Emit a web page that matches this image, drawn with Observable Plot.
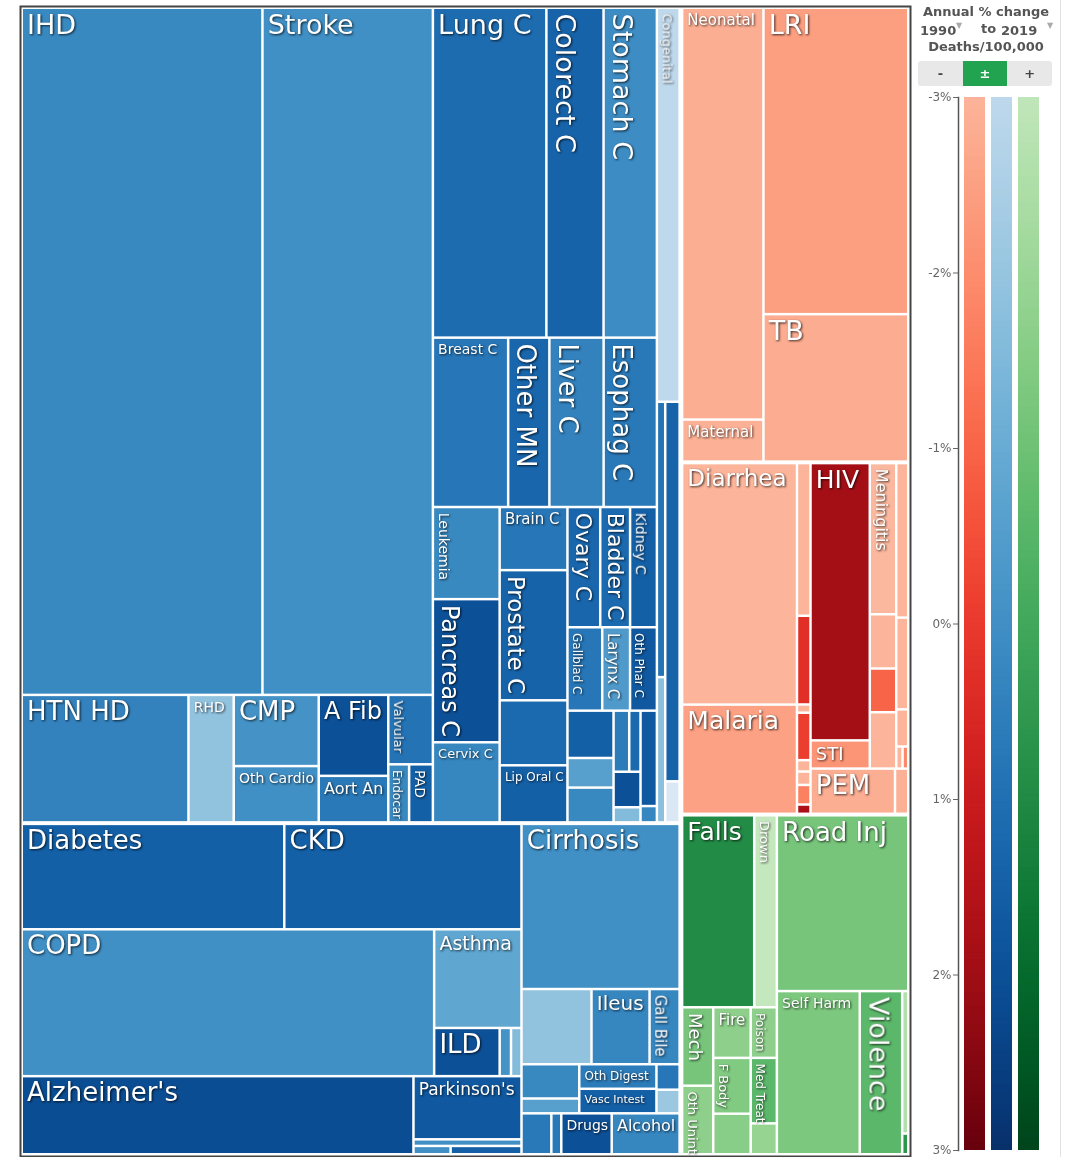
<!DOCTYPE html>
<html><head><meta charset="utf-8">
<script src="https://cdn.jsdelivr.net/npm/d3@7"></script>
<script src="https://cdn.jsdelivr.net/npm/@observablehq/plot@0.6"></script>
<style>
body{margin:0;background:#fff;font-family:"DejaVu Sans",sans-serif;}
#wrap{position:relative;width:1073px;height:1157px;overflow:hidden;background:#fff}
#tree{position:absolute;left:0;top:0}
#tree g[aria-label="text"]{filter:drop-shadow(1px 1px 1.2px rgba(0,0,0,0.75));}
#legend{position:absolute;left:913px;top:0;width:147px;height:1157px;border-right:1px solid #e2e2e2}
#legplot{position:absolute;left:0;top:0}
.hd{position:absolute;font-weight:bold;font-size:13px;color:#555;white-space:nowrap}
.car{position:absolute;font-size:8px;color:#aaa}
#btns{position:absolute;left:5px;top:61px;width:134px;height:25px;background:#e8e8e8;border-radius:3px;display:flex}
.btn{flex:1;text-align:center;line-height:25px;font-size:13px;font-weight:bold;color:#444}
.btn.on{background:#22a34f;color:#fff}
</style></head>
<body>
<div id="wrap">
  <div id="tree"></div>
  <div id="legend">
    <div id="legplot"></div>
    <div class="hd" style="left:4px;top:4px;width:138px;text-align:center">Annual % change</div>
    <div class="hd" style="left:7px;top:23px">1990</div>
    <div class="car" style="left:43px;top:21px">▼</div>
    <div class="hd" style="left:68px;top:21px">to</div>
    <div class="hd" style="left:88px;top:23px">2019</div>
    <div class="car" style="left:134px;top:21px">▼</div>
    <div class="hd" style="left:4px;top:39px;width:138px;text-align:center">Deaths/100,000</div>
    <div id="btns"><div class="btn">-</div><div class="btn on">±</div><div class="btn">+</div></div>
  </div>
</div>
<script>
// ---- data: [layout group path, cause, deaths per 100,000 (2019), annual % change 1990-2019]
const cardiovascular = [
  ["N/T/CVD/a", "IHD", 117.5, 0.2],
  ["N/T/CVD/a", "Stroke", 83.2, 0.0],
  ["N/T/CVD/b", "HTN HD", 15.1, 0.4],
  ["N/T/CVD/b", "RHD", 4.1, -1.9],
  ["N/T/CVD/b/cmp", "CMP", 4.3, -0.1],
  ["N/T/CVD/b/cmp", "Oth Cardio", 3.4, 0.0],
  ["N/T/CVD/b/af", "A Fib", 4.0, 2.0],
  ["N/T/CVD/b/af", "Aort An", 2.3, 0.7],
  ["N/T/CVD/b/vv", "Valvular", 2.2, 0.9],
  ["N/T/CVD/b/vv/ep", "Endocar", 0.86, 0.2],
  ["N/T/CVD/b/vv/ep", "PAD", 0.98, 1.5]
];
const neoplasms = [
  ["N/T/NEO/r1", "Lung C", 26.6, 1.1],
  ["N/T/NEO/r1", "Colorect C", 13.4, 1.4],
  ["N/T/NEO/r1", "Stomach C", 12.5, 0.1],
  ["N/T/NEO/r2", "Breast C", 9.06, 0.8],
  ["N/T/NEO/r2", "Other MN", 4.96, 1.3],
  ["N/T/NEO/r2", "Liver C", 6.53, 0.4],
  ["N/T/NEO/r2", "Esophag C", 6.41, 0.7],
  ["N/T/NEO/r3/a", "Leukemia", 4.37, 0.2],
  ["N/T/NEO/r3/a", "Pancreas C", 6.79, 2.0],
  ["N/T/NEO/r3/a", "Cervix C", 3.8, 0.3],
  ["N/T/NEO/r3/b", "Brain C", 3.04, 0.8],
  ["N/T/NEO/r3/b", "Prostate C", 6.27, 1.4],
  ["N/T/NEO/r3/b", "NHL", 3.13, 1.2],
  ["N/T/NEO/r3/b", "Lip Oral C", 2.75, 1.5],
  ["N/T/NEO/r3/c/1", "Ovary C", 2.8, 1.3],
  ["N/T/NEO/r3/c/1", "Bladder C", 2.55, 1.2],
  ["N/T/NEO/r3/c/1", "Kidney C", 2.29, 1.5],
  ["N/T/NEO/r3/c/2", "Gallblad C", 2.06, 0.8],
  ["N/T/NEO/r3/c/2", "Larynx C", 1.65, -0.4],
  ["N/T/NEO/r3/c/2", "Oth Phar C", 1.59, 1.7],
  ["N/T/NEO/r3/c/3/s", "Myeloma", 1.55, 1.5],
  ["N/T/NEO/r3/c/3/s", "Thyroid C", 0.97, -0.6],
  ["N/T/NEO/r3/c/3/s", "Nasophar C", 1.14, 0.2],
  ["N/T/NEO/r3/c/3/t/pq", "Uterine C", 0.68, 0.6],
  ["N/T/NEO/r3/c/3/t/pq", "Melanoma", 0.49, 1.2],
  ["N/T/NEO/r3/c/3/t", "Mesothelioma", 0.68, 2.0],
  ["N/T/NEO/r3/c/3/t", "Hodgkin", 0.29, -1.6],
  ["N/T/NEO/r3/c/3/u", "NMSC", 1.11, 1.7],
  ["N/T/NEO/r3/c/3/u", "Testic C", 0.19, 0.3]
];
const otherNcd = [
  ["N/T/OTH", "Congenital", 6.36, -3.0],
  ["N/T/OTH/l/x", "Hemog", 1.63, 0.9],
  ["N/T/OTH/l/x", "Skin", 0.86, -1.8],
  ["N/T/OTH/l/y", "Urinary", 3.88, 1.4],
  ["N/T/OTH/l/y", "SIDS", 0.42, -4.0]
];
const ncdLower = [
  ["N/B/L/dk", "Diabetes", 19.71, 1.5],
  ["N/B/L/dk", "CKD", 17.81, 1.5],
  ["N/B/L/rs", "COPD", 43.15, 0.0],
  ["N/B/L/rs/g", "Asthma", 6.14, -0.8],
  ["N/B/L/rs/g/i", "ILD", 2.25, 2.0],
  ["N/B/L/rs/g/i", "Pneumocon", 0.39, -0.1],
  ["N/B/L/rs/g/i", "Oth Resp", 0.36, -1.6],
  ["N/B/L/nr", "Alzheimer's", 21.79, 2.1],
  ["N/B/L/nr/p", "Parkinson's", 4.86, 1.7],
  ["N/B/L/nr/p", "Epilepsy", 0.51, 0.0],
  ["N/B/L/nr/p/s", "MS", 0.22, 0.0],
  ["N/B/L/nr/p/s", "MND", 0.42, 1.5],
  ["N/B/R", "Cirrhosis", 18.6, 0.0],
  ["N/B/R/d2", "Upper Dig", 3.75, -1.9],
  ["N/B/R/d2", "Ileus", 3.11, 0.3],
  ["N/B/R/d2", "Gall Bile", 1.61, 0.3],
  ["N/B/R/d3/a", "Pancreatitis", 1.41, 0.2],
  ["N/B/R/d3/a", "IBD", 0.61, -0.6],
  ["N/B/R/d3/b", "Oth Digest", 1.35, 0.6],
  ["N/B/R/d3/b", "Vasc Intest", 1.35, 1.5],
  ["N/B/R/d3/c", "Hernia", 0.42, 0.8],
  ["N/B/R/d3/c", "Appendicitis", 0.39, -2.1],
  ["N/B/R/su", "MSK", 0.87, 0.7],
  ["N/B/R/su", "Gyne", 0.29, 0.7],
  ["N/B/R/su", "Drugs", 1.47, 2.0],
  ["N/B/R/su", "Alcohol", 1.98, 0.3]
];
const communicable = [
  ["R/CT/nm", "Neonatal", 24.0, -2.85],
  ["R/CT/nm", "Maternal", 2.45, -2.9],
  ["R/CT/lt", "LRI", 31.8, -2.45],
  ["R/CT/lt", "TB", 15.3, -2.8],
  ["R/CB/dm", "Diarrhea", 19.9, -3.0],
  ["R/CB/dm", "Malaria", 9.0, -2.5],
  ["R/CB/nw", "Measles", 1.48, -3.0],
  ["R/CB/nw", "iNTS", 0.86, 0.3],
  ["R/CB/nw", "Tetanus", 0.08, -3.0],
  ["R/CB/nw", "Oth NTD", 0.46, -0.1],
  ["R/CB/nw", "Rabies", 0.11, -3.0],
  ["R/CB/nw", "Leish", 0.13, -3.0],
  ["R/CB/nw", "Zika", 0.19, -1.7],
  ["R/CB/nw", "Ebola", 0.09, 1.7],
  ["R/CB/rb/u/h", "HIV", 11.79, 1.9],
  ["R/CB/rb/u/h", "STI", 1.2, -2.2],
  ["R/CB/rb/u/m", "Meningitis", 2.87, -3.1],
  ["R/CB/rb/u/m", "Encephalitis", 1.03, -3.0],
  ["R/CB/rb/u/m", "Dengue", 0.83, -1.0],
  ["R/CB/rb/u/m", "Pertussis", 1.07, -3.0],
  ["R/CB/rb/u/l", "Typhoid", 1.33, -3.0],
  ["R/CB/rb/u/l", "Hepatitis", 0.79, -3.0],
  ["R/CB/rb/u/l", "Oth Infect", 0.32, -3.0],
  ["R/CB/rb/u/l/s", "Schisto", 0.1, -3.0],
  ["R/CB/rb/u/l/s", "Chagas", 0.09, -1.9],
  ["R/CB/rb/p", "PEM", 2.74, -2.85],
  ["R/CB/rb/p", "Oth Nutr", 0.43, -2.9]
];
const injuries = [
  ["R/I/l/t", "Falls", 9.93, 0.95],
  ["R/I/l/t", "Drown", 3.12, -3.1],
  ["R/I/l/b/m", "Mech", 1.75, -1.2],
  ["R/I/l/b/m", "Oth Unint", 1.53, -1.7],
  ["R/I/l/b/f", "Fire", 1.36, -1.7],
  ["R/I/l/b/f", "F Body", 1.5, -1.4],
  ["R/I/l/b/f", "Animal", 1.09, -1.6],
  ["R/I/l/b/p", "Poison", 0.95, -1.7],
  ["R/I/l/b/p", "Med Treat", 1.23, -0.6],
  ["R/I/l/b/p", "Nat Disaster", 0.58, -1.9],
  ["R/I/r", "Road Inj", 16.57, -1.2],
  ["R/I/r/i", "Self Harm", 9.7, -1.3],
  ["R/I/r/i", "Violence", 4.97, -0.6],
  ["R/I/r/i/c", "Conflict", 0.62, -2.6],
  ["R/I/r/i/c", "Police", 0.09, 0.6]
];
const legendTicks = [-3, -2, -1, 0, 1, 2, 3];
const families = ["comm", "ncd", "inj"];

// ---- label styling: [font size, orientation]
const labelStyle = {
  "IHD":[27,"h"], "Stroke":[27,"h"], "HTN HD":[26,"h"], "RHD":[14,"h"], "CMP":[26,"h"],
  "Oth Cardio":[14,"h"], "A Fib":[24,"h"], "Aort An":[16,"h"], "Valvular":[13,"v"],
  "Endocar":[12,"v"], "PAD":[14,"v"],
  "Lung C":[27,"h"], "Colorect C":[27,"v"], "Stomach C":[27,"v"], "Congenital":[13,"v"],
  "Breast C":[14,"h"], "Other MN":[26,"v"], "Liver C":[26,"v"], "Esophag C":[26,"v"],
  "Leukemia":[14,"v"], "Pancreas C":[24,"v"], "Cervix C":[13,"h"], "Brain C":[15,"h"],
  "Prostate C":[23,"v"], "Lip Oral C":[12,"h"], "Ovary C":[22,"v"], "Bladder C":[22,"v"],
  "Kidney C":[14,"v"], "Gallblad C":[12,"v"], "Larynx C":[15,"v"], "Oth Phar C":[12,"v"],
  "Diabetes":[26,"h"], "CKD":[26,"h"], "COPD":[26,"h"], "Asthma":[19,"h"], "ILD":[26,"h"],
  "Alzheimer's":[26,"h"], "Parkinson's":[17,"h"], "Cirrhosis":[26,"h"], "Ileus":[20,"h"],
  "Gall Bile":[15,"v"], "Oth Digest":[12,"h"], "Vasc Intest":[11,"h"], "Drugs":[14,"h"],
  "Alcohol":[16,"h"],
  "Neonatal":[15,"h"], "LRI":[27,"h"], "TB":[27,"h"], "Maternal":[15,"h"], "Diarrhea":[23,"h"],
  "HIV":[25,"h"], "Meningitis":[16,"v"], "Malaria":[25,"h"], "STI":[18,"h"], "PEM":[26,"h"],
  "Falls":[25,"h"], "Drown":[13,"v"], "Road Inj":[26,"h"], "Mech":[18,"v"], "Oth Unint":[13,"v"],
  "Fire":[15,"h"], "F Body":[13,"v"], "Poison":[12,"v"], "Med Treat":[12,"v"],
  "Self Harm":[14,"h"], "Violence":[27,"v"]
};

const interp = {ncd: d3.interpolateBlues, comm: d3.interpolateReds, inj: d3.interpolateGreens};
const colorOf = (fam, v) => interp[fam](Math.max(0, Math.min(1, 0.27 + 0.73 * (v + 3) / 6)));
const familyOf = p => p.startsWith("N") ? "ncd" : (p.startsWith("R/I") ? "inj" : "comm");

// ---- build hierarchy
const rows = [...cardiovascular, ...neoplasms, ...otherNcd, ...ncdLower, ...communicable, ...injuries];
const tree = {name: "root", children: []};
const nodes = new Map([["", tree]]);
for (const [path, name, value, change] of rows) {
  let key = "", parent = tree;
  for (const part of path.split("/")) {
    key = key ? key + "/" + part : part;
    if (!nodes.has(key)) { const n = {name: key, children: []}; parent.children.push(n); nodes.set(key, n); }
    parent = nodes.get(key);
  }
  parent.children.push({name, value, change, fam: familyOf(path)});
}
const W = 890, H = 1150;
const root = d3.hierarchy(tree).sum(d => d.children ? 0 : d.value);
d3.treemap().tile(d3.treemapSliceDice).size([W, H])
  .paddingInner(n => n.depth === 0 ? 5 : n.depth === 1 ? 4 : 2.5)
  .paddingOuter(n => n.depth === 0 ? 3 : 0)(root);
const leaves = root.leaves().map(d => ({
  name: d.data.name, x0: d.x0, x1: d.x1, y0: d.y0, y1: d.y1,
  color: colorOf(d.data.fam, d.data.change)
}));

const labeled = leaves.filter(d => labelStyle[d.name]);
const textMarks = d3.groups(labeled, d => labelStyle[d.name].join("|")).map(([k, items]) => {
  const [fs, o] = labelStyle[items[0].name];
  const v = o === "v";
  return Plot.text(items, {
    x: d => v ? d.x0 + 1.0 * fs : d.x0 + 3.5,
    y: d => d.y0 + (v ? 4 : 5),
    text: "name", fontSize: fs, rotate: v ? 90 : 0,
    textAnchor: "start", lineAnchor: "top", fill: "white", fontFamily: "DejaVu Sans"
  });
});

const chart = Plot.plot({
  width: 912, height: 1157,
  marginLeft: 20, marginTop: 6, marginRight: 2, marginBottom: 1,
  x: {domain: [0, W], range: [20, 910], axis: null},
  y: {domain: [0, H], range: [6, 1156], axis: null},
  color: {type: "identity"},
  marks: [
    Plot.rect(leaves, {x1: "x0", x2: "x1", y1: "y0", y2: "y1", fill: "color"}),
    ...textMarks,
    Plot.frame({stroke: "#444", strokeWidth: 2})
  ]
});
document.getElementById("tree").append(chart);

// ---- legend
const legData = [];
for (const fam of families) {
  const n = 160;
  for (let i = 0; i < n; i++) {
    const a = -3 + 6 * i / n, b = -3 + 6 * (i + 1) / n;
    legData.push({fam, y1: a, y2: Math.min(3, b + 0.01), fill: colorOf(fam, (a + b) / 2)});
  }
}
const legend = Plot.plot({
  width: 147, height: 1157,
  marginLeft: 45, marginTop: 97, marginBottom: 7, marginRight: 19,
  style: {fontFamily: "DejaVu Sans", fontSize: "12px", color: "#666", background: "transparent"},
  x: {type: "band", domain: families, range: [50, 128], paddingInner: 0.214, paddingOuter: 0, axis: null},
  y: {domain: [-3, 3], reverse: true, axis: null},
  color: {type: "identity"},
  marks: [
    Plot.barY(legData, {x: "fam", y1: "y1", y2: "y2", fill: "fill"}),
    Plot.frame({anchor: "left", stroke: "#555", strokeWidth: 1.5}),
    Plot.axisY({ticks: legendTicks, tickFormat: d => d + "%", anchor: "left", tickSize: 5, tickPadding: 2, fontSize: 12})
  ]
});
document.getElementById("legplot").append(legend);
</script>
</body></html>
